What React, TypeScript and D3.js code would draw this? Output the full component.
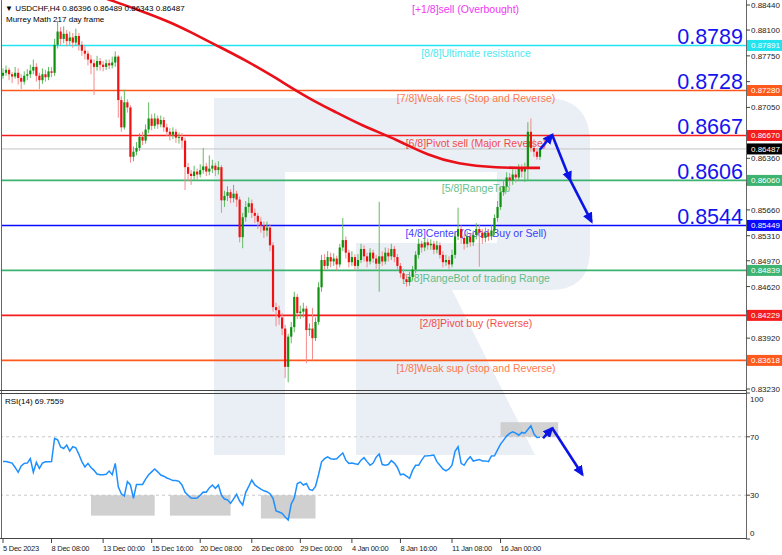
import React from "react";
import * as d3 from "d3";

const firstOpen = 0.8748;
const closes = [
  0.8752, 0.8756, 0.8750, 0.8747, 0.8752, 0.8745, 0.8740, 0.8748, 0.8750, 0.8755,
  0.8760, 0.8748, 0.8742, 0.8750, 0.8746, 0.8754, 0.8752, 0.8790, 0.8808, 0.8798,
  0.8805, 0.8795, 0.8800, 0.8793, 0.8802, 0.8790, 0.8782, 0.8778, 0.8770, 0.8765,
  0.8760, 0.8768, 0.8763, 0.8760, 0.8765, 0.8762, 0.8766, 0.8774, 0.8715, 0.8678,
  0.8712, 0.8705, 0.8638, 0.8645, 0.8650, 0.8665, 0.8660, 0.8675, 0.8690, 0.8680,
  0.8690, 0.8682, 0.8688, 0.8678, 0.8672, 0.8668, 0.8672, 0.8664, 0.8665, 0.8660,
  0.8624, 0.8615, 0.8612, 0.8618, 0.8614, 0.8620, 0.8625, 0.8618, 0.8622, 0.8626,
  0.8620, 0.8624, 0.8579, 0.8585, 0.8590, 0.8582, 0.8588, 0.8580, 0.8529, 0.8556,
  0.8570, 0.8575, 0.8562, 0.8558, 0.8550, 0.8545, 0.8538, 0.8542, 0.8518, 0.8434,
  0.8430, 0.8420, 0.8405, 0.8353, 0.8394, 0.8407, 0.8448, 0.8426, 0.8428, 0.8432,
  0.8403, 0.8405, 0.8392, 0.8414, 0.8461, 0.8498, 0.8490, 0.8502, 0.8496, 0.8500,
  0.8492, 0.8515, 0.8525, 0.8508, 0.8495, 0.8502, 0.8490, 0.8498, 0.8513, 0.8503,
  0.8496, 0.8508, 0.8500, 0.8493, 0.8503, 0.8496, 0.8508, 0.8503, 0.8513, 0.8502,
  0.8490, 0.8480, 0.8472, 0.8468, 0.8475, 0.8485, 0.8505, 0.8520, 0.8515, 0.8522,
  0.8518, 0.8520, 0.8512, 0.8518, 0.8505, 0.8495, 0.8498, 0.8492, 0.8505, 0.8530,
  0.8540, 0.8528, 0.8520, 0.8530, 0.8522, 0.8532, 0.8540, 0.8535, 0.8528, 0.8535,
  0.8530, 0.8538, 0.8555, 0.8570, 0.8590, 0.8598, 0.8610, 0.8606, 0.8614, 0.8610,
  0.8622, 0.8618, 0.8624, 0.8672, 0.8650, 0.8645, 0.8638, 0.8649,
];
const highs = [
  0.8758, 0.8762, 0.8759, 0.8753, 0.8760, 0.8758, 0.8750, 0.8754, 0.8757, 0.8763,
  0.8770, 0.8765, 0.8752, 0.8758, 0.8756, 0.8760, 0.8760, 0.8798, 0.8822, 0.8814,
  0.8815, 0.8810, 0.8808, 0.8806, 0.8812, 0.8806, 0.8795, 0.8788, 0.8782, 0.8776,
  0.8770, 0.8775, 0.8772, 0.8768, 0.8770, 0.8770, 0.8774, 0.8781, 0.8776, 0.8720,
  0.8729, 0.8716, 0.8708, 0.8652, 0.8658, 0.8670, 0.8672, 0.8682, 0.8712, 0.8696,
  0.8697, 0.8694, 0.8694, 0.8692, 0.8683, 0.8677, 0.8678, 0.8676, 0.8671, 0.8670,
  0.8664, 0.8630, 0.8620, 0.8626, 0.8622, 0.8628, 0.8650, 0.8630, 0.8640, 0.8634,
  0.8630, 0.8632, 0.8627, 0.8592, 0.8598, 0.8594, 0.8600, 0.8592, 0.8584, 0.8562,
  0.8578, 0.8583, 0.8580, 0.8568, 0.8562, 0.8556, 0.8550, 0.8550, 0.8546, 0.8522,
  0.8440, 0.8436, 0.8426, 0.8410, 0.8398, 0.8414, 0.8455, 0.8452, 0.8436, 0.8440,
  0.8436, 0.8412, 0.8433, 0.8420, 0.8468, 0.8505, 0.8506, 0.8510, 0.8508, 0.8507,
  0.8504, 0.8520, 0.8555, 0.8530, 0.8512, 0.8510, 0.8506, 0.8506, 0.8520, 0.8518,
  0.8508, 0.8514, 0.8512, 0.8505, 0.8577, 0.8510, 0.8515, 0.8514, 0.8520, 0.8517,
  0.8506, 0.8494, 0.8486, 0.8478, 0.8482, 0.8490, 0.8510, 0.8527, 0.8524, 0.8528,
  0.8527, 0.8526, 0.8524, 0.8524, 0.8522, 0.8510, 0.8505, 0.8503, 0.8512, 0.8536,
  0.8569, 0.8545, 0.8533, 0.8537, 0.8535, 0.8538, 0.8548, 0.8546, 0.8540, 0.8542,
  0.8540, 0.8545, 0.8560, 0.8578, 0.8597, 0.8606, 0.8617, 0.8616, 0.8621, 0.8620,
  0.8628, 0.8628, 0.8630, 0.8685, 0.8690, 0.8662, 0.8650, 0.8649,
];
const lows = [
  0.8744, 0.8748, 0.8742, 0.8738, 0.8744, 0.8736, 0.8730, 0.8736, 0.8742, 0.8745,
  0.8750, 0.8740, 0.8730, 0.8737, 0.8740, 0.8742, 0.8746, 0.8748, 0.8785, 0.8790,
  0.8792, 0.8788, 0.8790, 0.8786, 0.8789, 0.8782, 0.8775, 0.8770, 0.8762, 0.8750,
  0.8722, 0.8755, 0.8755, 0.8754, 0.8756, 0.8757, 0.8758, 0.8760, 0.8691, 0.8672,
  0.8675, 0.8698, 0.8630, 0.8632, 0.8640, 0.8646, 0.8654, 0.8656, 0.8670, 0.8674,
  0.8676, 0.8676, 0.8678, 0.8672, 0.8666, 0.8660, 0.8662, 0.8657, 0.8656, 0.8650,
  0.8593, 0.8605, 0.8600, 0.8606, 0.8607, 0.8610, 0.8615, 0.8612, 0.8613, 0.8616,
  0.8612, 0.8614, 0.8562, 0.8570, 0.8578, 0.8575, 0.8576, 0.8570, 0.8522, 0.8514,
  0.8550, 0.8562, 0.8555, 0.8548, 0.8540, 0.8535, 0.8528, 0.8530, 0.8510, 0.8428,
  0.8408, 0.8410, 0.8396, 0.8338, 0.8332, 0.8385, 0.8400, 0.8418, 0.8418, 0.8420,
  0.8358, 0.8395, 0.8362, 0.8388, 0.8410, 0.8455, 0.8484, 0.8486, 0.8488, 0.8490,
  0.8484, 0.8488, 0.8510, 0.8500, 0.8488, 0.8490, 0.8484, 0.8486, 0.8494, 0.8496,
  0.8488, 0.8492, 0.8494, 0.8486, 0.8455, 0.8490, 0.8492, 0.8496, 0.8498, 0.8495,
  0.8484, 0.8474, 0.8466, 0.8462, 0.8463, 0.8470, 0.8480, 0.8500, 0.8508, 0.8510,
  0.8512, 0.8512, 0.8506, 0.8507, 0.8500, 0.8488, 0.8490, 0.8486, 0.8488, 0.8500,
  0.8525, 0.8520, 0.8512, 0.8515, 0.8516, 0.8517, 0.8526, 0.8489, 0.8520, 0.8522,
  0.8524, 0.8525, 0.8532, 0.8550, 0.8566, 0.8585, 0.8592, 0.8598, 0.8600, 0.8603,
  0.8605, 0.8610, 0.8604, 0.8606, 0.8645, 0.8638, 0.8634, 0.8634,
];
const rsiValues = [
  53, 53, 52.5, 52, 49, 45.7, 50, 51.8, 52, 55,
  45.7, 52.5, 48.3, 52, 52.9, 52.9, 53, 69, 68, 63,
  62, 64.3, 60.2, 63.2, 62.5, 58, 53, 49.4, 51.8, 49,
  47, 44.5, 44, 44, 44.3, 46.5, 44, 51.8, 35.8, 31,
  29.5, 39.3, 37, 27.9, 37.4, 37.4, 37.4, 41, 44, 46,
  47.9, 46, 43.8, 43, 41.8, 41, 40, 40, 39.5, 37,
  32, 30, 28, 27.9, 28, 30, 32.1, 32, 35, 37,
  34.7, 37, 30, 27.4, 26.8, 24.4, 27.5, 30.6, 26, 23.3,
  32, 36, 40.4, 37, 35.5, 34.2, 33, 32.4, 31, 27.9,
  19.2, 18.5, 17.6, 15, 13, 24, 28, 38, 39, 37,
  38, 34, 33.3, 36, 44, 52.9, 55, 56.3, 55, 54.7,
  55, 57, 58.9, 54, 51.8, 52, 51.5, 51.1, 54, 55.7,
  53, 50.5, 52, 56, 58.2, 51, 50.5, 51, 53.7, 52,
  49, 44, 44.5, 43, 41.5, 47, 50.5, 50.5, 54, 56.9,
  57, 57.2, 57.5, 53, 50.5, 48, 46.6, 48, 50.5, 60,
  63.2, 51.8, 50.5, 54, 56.3, 53.4, 54, 54.5, 53.4, 53.5,
  53, 56.9, 57, 61, 65, 67.7, 70.5, 72.3, 73.4, 72.5,
  71.1, 73, 72.5, 75, 77.6, 72, 69.5, 69.76,
];
const maIdx = [30, 35, 45, 55, 62, 70, 80, 90, 100, 110, 118, 130, 140, 150, 162, 177];
const maVals = [0.8859, 0.8851, 0.8837, 0.8821, 0.8807, 0.8790, 0.8769, 0.8745, 0.8719, 0.8698, 0.8681, 0.8661, 0.8640, 0.8628, 0.8623, 0.8623];

const priceTicks = [0.8844, 0.8810, 0.8775, 0.8740, 0.8705, 0.8670, 0.8636, 0.8601, 0.8566, 0.8531, 0.8497, 0.8462, 0.8428, 0.8392, 0.8357, 0.8323];
const levelValues = [0.88501, 0.87891, 0.8728, 0.8667, 0.8606, 0.85449, 0.84839, 0.84229, 0.83618];
const levelNames = [
  "[+1/8]sell (Overbought)",
  "[8/8]Ultimate resistance",
  "[7/8]Weak res (Stop and Reverse)",
  "[6/8]Pivot sell (Major Reverse)",
  "[5/8]RangeTop",
  "[4/8]Center (Good Buy or Sell)",
  "[3/8]RangeBot of trading Range",
  "[2/8]Pivot buy (Reverse)",
  "[1/8]Weak sup (stop and Reverse)",
];
const levelColors = ["#ee00ee", "#22e4ee", "#ff5a1e", "#f41c1c", "#3cb371", "#0a0aff", "#3cb371", "#f41c1c", "#ff5a1e"];
const bigLabels = ["", "0.8789", "0.8728", "0.8667", "0.8606", "0.8544", "", "", ""];
const currentPrice = 0.86487;

const xTickIdx = [0, 16, 33, 49, 65, 82, 98, 115, 131, 148, 164];
const xTickLabels = ["5 Dec 2023", "8 Dec 08:00", "13 Dec 00:00", "15 Dec 16:00", "20 Dec 08:00", "26 Dec 08:00", "29 Dec 00:00", "4 Jan 00:00", "8 Jan 16:00", "11 Jan 08:00", "16 Jan 00:00"];
const rsiTicks = [100, 70, 30, 0];
const rsiBoxes = [
  { i0: 29, i1: 50, v0: 30, v1: 16 },
  { i0: 55, i1: 75, v0: 30, v1: 16 },
  { i0: 85, i1: 103, v0: 30, v1: 14 },
  { i0: 164, i1: 183, v0: 80, v1: 70 },
];
const arrowMain: [number, number][] = [[177, 0.8648], [181, 0.8668], [187, 0.8606], [194, 0.855]];
const arrowRsi: [number, number][] = [[178, 69], [181, 76], [191, 44]];

const FONT = "'Liberation Sans', Arial, sans-serif";

export default function App() {
  const W = 782, H = 555;
  const axisX = 746;
  const x = d3.scaleLinear().domain([0, 177]).range([3, 540]);
  const y = d3.scaleLinear().domain([0.8323, 0.8844]).range([389, 5]);
  const yr = d3.scaleLinear().domain([0, 100]).range([539, 393]);

  const opens = closes.map((_, i) => (i === 0 ? firstOpen : closes[i - 1]));
  const maLine = d3.line<number>().x((_, i) => x(maIdx[i])).y((v) => y(v)).curve(d3.curveBasis)(maVals) || "";
  const rsiLine = d3.line<number>().x((_, i) => x(i)).y((v) => yr(v))(rsiValues) || "";

  const blue = "#0b14e6";
  const wm = "#eaeef5";

  const boxYs = [...levelValues.slice(1), currentPrice].map((v) => y(v));
  const visibleTicks = priceTicks.filter((v) => !boxYs.some((by) => Math.abs(by - y(v)) < 9));

  const segs = (pts: [number, number][], ys: (v: number) => number) =>
    pts.slice(1).map((p, k) => ({ x1: x(pts[k][0]), y1: ys(pts[k][1]), x2: x(p[0]), y2: ys(p[1]) }));

  return (
    <div style={{ position: "fixed", left: 0, top: 0, width: W, height: H, background: "#fff" }}>
      <svg width={W} height={H} style={{ display: "block", fontFamily: FONT }}>
        <defs>
          <clipPath id="pp"><rect x={2} y={0} width={axisX - 2} height={390} /></clipPath>
          <clipPath id="rp"><rect x={2} y={394} width={axisX - 2} height={144} /></clipPath>
          <marker id="ah" viewBox="0 0 10 10" refX="8" refY="5" markerWidth="11" markerHeight="11" markerUnits="userSpaceOnUse" orient="auto">
            <path d="M0,0.5 L10,5 L0,9.5 z" fill={blue} />
          </marker>
        </defs>
        <rect x={0} y={0} width={W} height={H} fill="#fff" />
        {/* watermark */}
        <path d="M214,98 H545 Q590,98 590,143 V250 Q590,290 550,290 H452 L535,455 H356 V243 H497 V172 H285 V455 H214 Z" fill={wm} />

        {/* price pane */}
        <g clipPath="url(#pp)">
          <line x1={0} x2={axisX} y1={y(currentPrice)} y2={y(currentPrice)} stroke="#c4c4c4" strokeWidth={1} />
          {levelValues.map((v, i) => i === 0 ? null : (
            <line key={"l" + i} x1={0} x2={axisX} y1={y(v)} y2={y(v)} stroke={levelColors[i]} strokeWidth={1.6} />
          ))}
          {levelValues.map((v, i) => (
            <text key={"t" + i} x={i === 0 ? 412 : 476} y={Math.max(y(v), 0) + 12} textAnchor={i === 0 ? "start" : "middle"} fontSize={10.5} fill={levelColors[i]} opacity={0.8}>
              {levelNames[i]}
            </text>
          ))}
          {closes.map((c, i) => {
            const o = opens[i];
            const up = c >= o;
            const top = y(Math.max(o, c));
            const bot = y(Math.min(o, c));
            return (
              <g key={"c" + i}>
                <line x1={x(i)} x2={x(i)} y1={y(highs[i])} y2={y(lows[i])} stroke={up ? "#62bb62" : "#f48a8a"} strokeWidth={1} />
                <rect x={x(i) - 1.1} width={2.2} y={top} height={Math.max(1, bot - top)} fill={up ? "#0e920e" : "#f01212"} />
              </g>
            );
          })}
          <path d={maLine} fill="none" stroke="#ea1019" strokeWidth={2.6} />
          {segs(arrowMain, y).map((s, k) => (
            <line key={"am" + k} {...s} stroke={blue} strokeWidth={2.6} markerEnd="url(#ah)" />
          ))}
          {bigLabels.map((t, i) => t ? (
            <text key={"b" + i} x={743} y={y(levelValues[i]) - 1.5} textAnchor="end" fontSize={21.5} fill="#1414f0">{t}</text>
          ) : null)}
        </g>
        <text x={5} y={11} fontSize={8} fill="#000">{"\u25BC USDCHF,H4  0.86396 0.86489 0.86343 0.86487"}</text>
        <text x={6} y={22} fontSize={8} fill="#000">Murrey Math 217 day frame</text>

        {/* RSI pane */}
        <g clipPath="url(#rp)">
          {[70, 30].map((v) => (
            <line key={"rg" + v} x1={0} x2={axisX} y1={yr(v)} y2={yr(v)} stroke="#c8c8c8" strokeDasharray="3,3" />
          ))}
          {rsiBoxes.map((b, k) => (
            <rect key={"rb" + k} x={x(b.i0)} width={x(b.i1) - x(b.i0)} y={yr(b.v0)} height={yr(b.v1) - yr(b.v0)} fill="#c4c4c4" opacity={k === 3 ? 0.75 : 0.8} />
          ))}
          <path d={rsiLine} fill="none" stroke="#1e8fff" strokeWidth={1.5} />
          {segs(arrowRsi, yr).map((s, k) => (
            <line key={"ar" + k} {...s} stroke={blue} strokeWidth={2.6} markerEnd="url(#ah)" />
          ))}
        </g>
        <text x={5} y={404} fontSize={8} fill="#000">RSI(14) 69.7559</text>

        {/* frames */}
        <line x1={1.5} x2={1.5} y1={0} y2={539} stroke="#666" />
        <line x1={0} x2={axisX} y1={390.5} y2={390.5} stroke="#444" />
        <line x1={0} x2={axisX} y1={393.5} y2={393.5} stroke="#444" />
        <line x1={0} x2={axisX} y1={538.5} y2={538.5} stroke="#444" />
        <line x1={axisX + 0.5} x2={axisX + 0.5} y1={0} y2={539} stroke="#666" />

        {/* price axis */}
        {priceTicks.map((v, i) => (
          <line key={"ptl" + i} x1={axisX} x2={axisX + 4} y1={y(v)} y2={y(v)} stroke="#444" />
        ))}
        {visibleTicks.map((v, i) => (
          <text key={"pt" + i} x={751} y={y(v) + 3} fontSize={8} fill="#222">{v.toFixed(5)}</text>
        ))}
        {levelValues.slice(1).map((v, i) => (
          <g key={"pb" + i}>
            <rect x={axisX + 1} y={y(v) - 5.5} width={36} height={11} fill={levelColors[i + 1]} />
            <text x={751} y={y(v) + 3} fontSize={8} fill="#fff">{v.toFixed(5)}</text>
          </g>
        ))}
        <rect x={axisX + 1} y={y(currentPrice) - 5.5} width={36} height={11} fill="#000" />
        <text x={751} y={y(currentPrice) + 3} fontSize={8} fill="#fff">{currentPrice.toFixed(5)}</text>

        {/* rsi axis */}
        {rsiTicks.map((v) => (
          <g key={"rt" + v}>
            <line x1={axisX} x2={axisX + 4} y1={yr(v)} y2={yr(v)} stroke="#444" />
            <text x={750} y={Math.min(Math.max(yr(v), 399), 533) + 3} fontSize={8} fill="#222">{v}</text>
          </g>
        ))}

        {/* time axis */}
        {xTickIdx.map((idx, k) => (
          <g key={"xt" + k}>
            <line x1={x(idx)} x2={x(idx)} y1={539} y2={543} stroke="#444" />
            <text x={x(idx)} y={551} fontSize={7.5} letterSpacing={-0.25} fill="#222">{xTickLabels[k]}</text>
          </g>
        ))}
      </svg>
    </div>
  );
}
